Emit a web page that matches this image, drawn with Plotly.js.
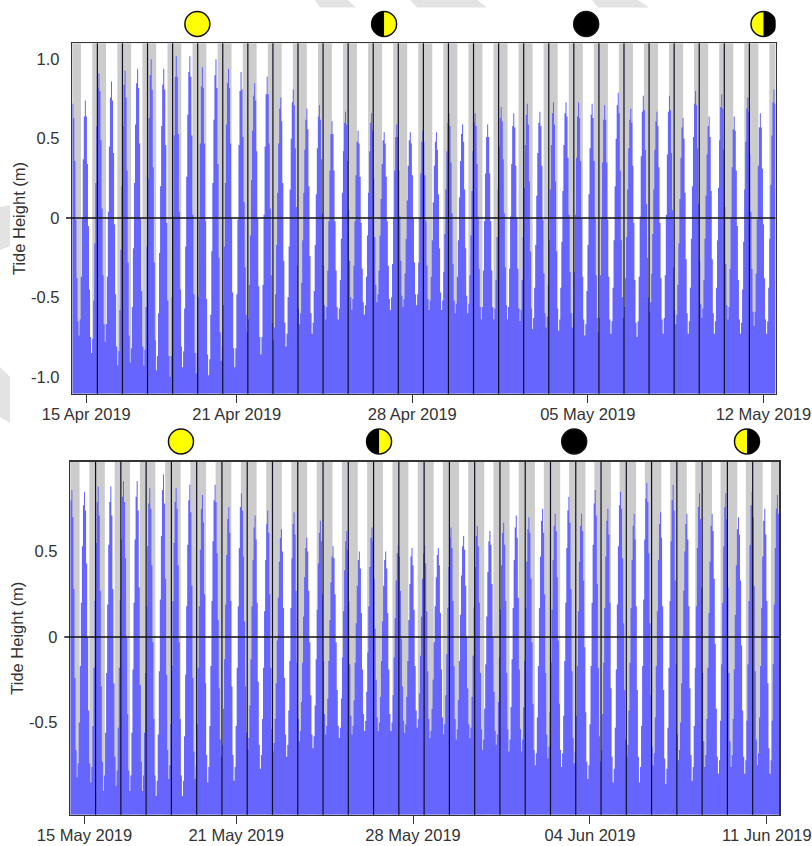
<!DOCTYPE html>
<html><head><meta charset="utf-8">
<script src="https://cdn.plot.ly/plotly-3.0.1.min.js"></script>
<style>html,body{margin:0;padding:0;background:#fff}#c{width:812px;height:846px}</style>
</head><body><div id="c"></div>
<script>
// Hourly tide heights (m), panel 1: 15 Apr - 12 May 2019
var tideAprA=[.72,.63,.36,-.01,-.38,-.65,-.74,-.64,-.37,0,.37,.64,.74,.64,.34,-.05,-.45,-.75,-.85,-.76,-.52,-.16,.22,.58,.82,.91,.80,.49,.06,-.36,-.67,-.78,-.67,-.37,.04,.45,.76,.86,.74,.41,-.04,-.48,-.81,-.93,-.84,-.58,-.20,.20,.58,.84,.93,.76,.30,-.28,-.74,-.91,-.82,-.56,-.19,.22,.59,.85,.94,.82,.47,0,-.46,-.81,-.93,-.83,-.56,-.18,.25,.63,.90,1.0,.81,.32,-.28,-.77,-.96,-.87,-.60,-.22,.20,.58,.84,.94,.81,.46,-.03,-.52,-.87,-1.0,-.87,-.50,.01,.52,.89,1.02,.89,.53,.04,-.45,-.81,-.94,-.84,-.57,-.18,.26,.65,.92,1.02,.89,.52,.02,-.48,-.85,-.98,-.85,-.50,-.01,.47,.83,.95,.82,.47,-.02,-.51,-.86,-.99,-.89,-.61,-.21,.22,.62,.90,1.0,.82,.34,-.25,-.72,-.90,-.81,-.55,-.18,.22,.59,.85,.94,.82,.47,0,-.47,-.82,-.94,-.82,-.48,-.01,.46,.80,.92,.81,.51,.10,-.31,-.61,-.72,-.64,-.42,-.11,.24,.55,.77];
var tideAprB=[.85,.74,.42,0,-.43,-.75,-.86,-.75,-.42,.02,.45,.78,.89,.78,.47,.06,-.36,-.66,-.77,-.69,-.48,-.17,.16,.47,.69,.76,.61,.22,-.27,-.66,-.81,-.73,-.50,-.18,.18,.50,.73,.81,.71,.44,.07,-.30,-.57,-.67,-.60,-.41,-.14,.16,.43,.62,.69,.56,.20,-.24,-.60,-.73,-.66,-.46,-.17,.15,.44,.64,.71,.62,.37,.03,-.30,-.55,-.64,-.56,-.33,-.02,.30,.53,.61,.53,.30,-.02,-.33,-.56,-.64,-.57,-.39,-.13,.16,.42,.60,.67,.59,.36,.05,-.27,-.50,-.58,-.51,-.30,-.02,.27,.48,.55,.47,.26,-.03,-.32,-.53,-.61,-.55,-.37,-.11,.16,.42,.60,.66,.55,.25,-.12,-.42,-.53,-.48,-.33,-.11,.12,.34,.49,.54,.47,.26,-.02,-.30,-.51,-.58,-.50,-.29,0,.30,.51,.59,.51,.30,.01,-.27,-.49,-.56,-.51,-.35,-.13,.11,.33,.49,.54,.47,.27,0,-.28,-.48,-.55,-.48,-.28,0,.28,.48,.55,.48,.27,-.02,-.30,-.51,-.58,-.52,-.37,-.14,.10,.33,.48];
var tideAprC=[.54,.43,.15,-.19,-.47,-.58,-.52,-.34,-.10,.18,.42,.60,.66,.58,.35,.03,-.29,-.52,-.60,-.54,-.37,-.14,.13,.36,.53,.59,.48,.18,-.19,-.49,-.60,-.54,-.36,-.11,.17,.42,.60,.66,.58,.34,.01,-.32,-.56,-.64,-.56,-.33,-.02,.28,.51,.59,.51,.28,-.02,-.33,-.56,-.64,-.57,-.39,-.12,.18,.45,.63,.70,.61,.37,.03,-.31,-.55,-.64,-.56,-.32,.01,.34,.58,.66,.57,.33,0,-.32,-.57,-.65,-.58,-.39,-.12,.19,.46,.65,.72,.59,.23,-.21,-.57,-.70,-.63,-.44,-.17,.14,.41,.60,.67,.58,.33,-.01,-.35,-.60,-.69,-.62,-.42,-.14,.18,.46,.66,.73,.59,.23,-.21,-.57,-.71,-.64,-.44,-.15,.17,.46,.66,.73,.64,.38,.02,-.34,-.60,-.69,-.60,-.34,.02,.38,.64,.73,.63,.36,0,-.37,-.64,-.74,-.67,-.46,-.17,.15,.44,.65,.72,.63,.36,0,-.36,-.63,-.72,-.63,-.36,0,.35,.62,.71,.62,.35,-.01,-.37,-.64,-.73,-.65,-.44,-.14,.20,.50,.71];
var tideAprD=[.79,.66,.30,-.14,-.50,-.63,-.56,-.38,-.12,.18,.44,.62,.69,.60,.33,-.03,-.39,-.66,-.75,-.65,-.37,.01,.39,.67,.77,.68,.43,.09,-.25,-.50,-.59,-.53,-.35,-.10,.18,.43,.61,.67,.58,.32,-.03,-.38,-.64,-.73,-.63,-.36,.02,.40,.67,.77,.68,.41,.05,-.31,-.58,-.67,-.61,-.42,-.16,.12,.38,.57,.63,.50,.16,-.26,-.60,-.73,-.65,-.44,-.13,.20,.51,.72,.80,.71,.44,.09,-.27,-.54,-.63,-.57,-.39,-.13,.14,.40,.58,.64,.51,.17,-.26,-.60,-.73,-.65,-.44,-.14,.19,.49,.70,.78,.69,.43,.07,-.29,-.55,-.64,-.56,-.32,0,.32,.56,.64,.55,.30,-.05,-.39,-.64,-.73,-.66,-.45,-.15,.18,.48,.69,.76,.67,.40,.04,-.32,-.59,-.68,-.59,-.35,-.01,.33,.57,.66,.57,.31,-.04,-.38,-.64,-.73,-.65,-.44,-.13,.21,.52,.73,.81,.72];
// Hourly tide heights (m), panel 2: 15 May - 11 Jun 2019
var tideMayA=[.80,.86,.70,.28,-.24,-.66,-.82,-.74,-.50,-.17,.20,.53,.77,.85,.74,.43,0,-.43,-.74,-.85,-.76,-.52,-.18,.21,.55,.79,.88,.71,.27,-.29,-.73,-.90,-.81,-.56,-.21,.19,.54,.79,.88,.71,.28,-.27,-.70,-.87,-.78,-.53,-.18,.22,.57,.82,.91,.79,.46,0,-.45,-.78,-.90,-.81,-.56,-.19,.20,.57,.82,.91,.74,.29,-.28,-.73,-.90,-.81,-.56,-.21,.18,.53,.78,.87,.75,.42,-.03,-.48,-.81,-.93,-.84,-.57,-.20,.22,.59,.86,.95,.78,.34,-.22,-.66,-.83,-.75,-.51,-.17,.21,.55,.79,.87,.75,.42,-.03,-.48,-.81,-.93,-.84,-.58,-.22,.18,.54,.80,.89,.73,.30,-.24,-.67,-.83,-.75,-.51,-.18,.18,.51,.75,.83,.67,.25,-.27,-.69,-.85,-.76,-.52,-.17,.21,.56,.80,.89,.79,.49,.10,-.30,-.60,-.70,-.63,-.42,-.13,.19,.48,.69,.76,.61,.21,-.29,-.69,-.84,-.76,-.52,-.18,.18,.52,.76,.84,.74,.47,.09,-.29,-.56,-.66,-.59,-.40,-.13,.18,.45,.64];
var tideMayB=[.71,.57,.20,-.26,-.63,-.77,-.69,-.48,-.18,.15,.45,.66,.74,.61,.25,-.18,-.54,-.67,-.62,-.48,-.27,-.02,.23,.44,.58,.63,.50,.17,-.24,-.57,-.70,-.63,-.43,-.14,.17,.46,.66,.73,.60,.27,-.15,-.48,-.61,-.55,-.38,-.15,.12,.35,.52,.58,.50,.27,-.03,-.34,-.57,-.65,-.58,-.40,-.13,.16,.43,.61,.68,.56,.25,-.14,-.45,-.57,-.52,-.36,-.14,.10,.32,.47,.53,.46,.25,-.03,-.31,-.52,-.59,-.53,-.36,-.12,.15,.39,.56,.62,.51,.21,-.16,-.46,-.57,-.52,-.37,-.15,.08,.30,.45,.50,.40,.14,-.19,-.45,-.55,-.49,-.32,-.09,.18,.41,.58,.64,.56,.34,.05,-.25,-.47,-.55,-.50,-.35,-.14,.09,.30,.45,.50,.40,.14,-.19,-.45,-.55,-.50,-.34,-.12,.11,.33,.49,.54,.47,.27,-.01,-.29,-.49,-.56,-.51,-.35,-.14,.10,.31,.47,.52,.42,.16,-.17,-.43,-.53,-.48,-.33,-.11,.12,.34,.49,.54,.43,.15,-.20,-.48,-.59,-.55,-.42,-.25,-.03,.18,.35,.48];
var tideMayC=[.52,.42,.14,-.19,-.47,-.57,-.51,-.34,-.10,.17,.41,.58,.64,.52,.21,-.17,-.48,-.60,-.54,-.37,-.14,.13,.36,.53,.59,.51,.30,0,-.30,-.51,-.59,-.53,-.35,-.11,.17,.41,.59,.65,.53,.20,-.21,-.54,-.66,-.60,-.42,-.16,.12,.38,.56,.62,.54,.31,0,-.32,-.55,-.63,-.57,-.38,-.12,.16,.42,.61,.67,.54,.21,-.21,-.54,-.67,-.60,-.41,-.13,.17,.45,.64,.71,.58,.23,-.19,-.54,-.67,-.60,-.41,-.14,.17,.44,.63,.70,.61,.34,-.03,-.39,-.66,-.75,-.68,-.47,-.17,.17,.47,.68,.75,.61,.25,-.21,-.57,-.71,-.64,-.44,-.15,.16,.45,.65,.72,.62,.35,-.02,-.39,-.66,-.76,-.68,-.46,-.14,.20,.52,.74,.82,.67,.28,-.20,-.59,-.74,-.67,-.46,-.17,.15,.44,.65,.72,.62,.33,-.06,-.44,-.73,-.83,-.75,-.51,-.17,.20,.54,.78,.86,.71,.31,-.18,-.58,-.73,-.66,-.45,-.15,.17,.47,.68,.75,.60,.20,-.30,-.70,-.85,-.77,-.53,-.19,.19,.53,.77];
var tideMayD=[.85,.75,.46,.08,-.31,-.60,-.70,-.63,-.43,-.15,.17,.45,.65,.72,.57,.18,-.31,-.70,-.85,-.76,-.52,-.17,.22,.57,.81,.90,.79,.49,.08,-.34,-.64,-.75,-.68,-.47,-.17,.15,.45,.66,.73,.58,.18,-.31,-.71,-.86,-.77,-.53,-.18,.21,.56,.80,.89,.74,.33,-.16,-.57,-.72,-.66,-.50,-.27,0,.27,.50,.66,.72,.57,.18,-.30,-.69,-.84,-.76,-.52,-.18,.18,.52,.76,.84,.69,.29,-.21,-.61,-.76,-.69,-.48,-.18,.14,.44,.65,.72,.62,.34,-.04,-.42,-.70,-.80,-.72,-.49,-.16,.20,.53,.76,.84,.69,.29,-.21,-.61,-.76,-.69,-.48,-.19,.13,.42,.63,.70,.60,.33,-.05,-.43,-.70,-.80,-.72,-.49,-.16,.21,.54,.77,.85,.70,.30,-.20,-.60,-.75,-.68,-.47,-.17,.17,.47,.68,.75,.60,.21,-.27,-.65,-.80,-.72,-.49,-.16,.19,.52,.75,.83,.72];
// Daylight (hour of day) per day
var sunriseApr=[8.3,8.3,8.3,8.3,8.3,8.3,8.4,8.4,8.4,8.4,8.4,8.4,8.5,8.5,8.5,8.5,8.5,8.5,8.5,8.5,8.6,8.6,8.6,8.6,8.6,8.6,8.6,8.6];
var sunsetApr=[19.1,19.1,19.1,19.1,19.1,19.1,19.1,19.1,19.1,19.1,19.1,19.1,19.1,19.1,19.1,19.1,19.1,19.1,19.1,19.1,19.1,19.1,19.1,19.1,19.1,19.1,19.1,19.1];
var sunriseMay=[8.8,8.8,8.8,8.8,8.8,8.9,8.9,8.9,8.9,8.9,9.0,9.0,9.0,9.0,9.1,9.1,9.1,9.1,9.2,9.2,9.2,9.3,9.3,9.3,9.4,9.4,9.4,9.5];
var sunsetMay=[18.1,18.1,18.1,18.1,18.0,18.0,18.0,18.0,18.0,18.0,17.9,17.9,17.9,17.9,17.8,17.8,17.8,17.8,17.7,17.7,17.7,17.6,17.6,17.6,17.5,17.5,17.5,17.4];
// Axis labels
var tickHoursApr=[13.4,157.4,325.4,493.4,661.4];
var tickTextApr=['15 Apr 2019','21 Apr 2019','28 Apr 2019','05 May 2019','12 May 2019'];
var tickHoursMay=[13.5,157.5,325.5,493.5,661.5];
var tickTextMay=['15 May 2019','21 May 2019','28 May 2019','04 Jun 2019','11 Jun 2019'];
var yValsApr=[1,0.5,0,-0.5,-1], yTextApr=['1.0','0.5','0','-0.5','-1.0'];
var yValsMay=[0.5,0,-0.5], yTextMay=['0.5','0','-0.5'];
// Moon phases
var moonKinds=['full','first','new','last'];
var moonHoursApr=[119.7,298.4,491.8,661.5];
var moonHoursMay=[105.1,293.2,478.5,642.6];

var W=812,H=846;
var FONT='"Liberation Sans",Arial,sans-serif', TXT='#333333';
var panels=[
 {tide:[].concat(tideAprA,tideAprB,tideAprC,tideAprD),rise:sunriseApr,set:sunsetApr,ticks:tickHoursApr,text:tickTextApr,yv:yValsApr,yt:yTextApr,moons:moonHoursApr,
  left:72.3,right:775.5,top:43.3,bottom:393.7,ymin:-1.107,ymax:1.101,moonY:24,zeroStart:66},
 {tide:[].concat(tideMayA,tideMayB,tideMayC,tideMayD),rise:sunriseMay,set:sunsetMay,ticks:tickHoursMay,text:tickTextMay,yv:yValsMay,yt:yTextMay,moons:moonHoursMay,
  left:70.3,right:779,top:461.7,bottom:814.7,ymin:-1.039,ymax:1.025,moonY:441.5,zeroStart:64.3}
];
var xEnd=673;
var traces=[], shapes=[], layout={
 width:W,height:H,margin:{l:0,r:0,t:0,b:0},paper_bgcolor:'#ffffff',plot_bgcolor:'#cccccc',
 showlegend:false,hovermode:false,font:{family:FONT,size:16,color:TXT}
};
function poly(pts,c){
 var d=pts.map(function(p,i){return (i?'L':'M')+(p[0]/W)+','+(1-p[1]/H);}).join(' ')+' Z';
 shapes.push({type:'path',xref:'paper',yref:'paper',path:d,fillcolor:c,line:{width:0},layer:'below'});
}
// faint background marks
var wm='#e3e3e3';
poly([[315,0],[348,0],[356,7.5],[320,7.5]],wm);
poly([[410,0],[477,0],[487,7.5],[417,7.5]],wm);
poly([[592,0],[638,0],[649,7.5],[598,7.5]],wm);
poly([[0,207],[10,205],[10,246],[0,250]],wm);
poly([[0,367],[10,377],[10,423],[0,417]],wm);

// circle built from cubic arcs (shape paths do not accept A commands)
function moonPath(R,part){
 var k=0.5523*R;
 var right='C '+k+' -'+R+' '+R+' -'+k+' '+R+' 0 C '+R+' '+k+' '+k+' '+R+' 0 '+R;
 var left='C -'+k+' '+R+' -'+R+' '+k+' -'+R+' 0 C -'+R+' -'+k+' -'+k+' -'+R+' 0 -'+R;
 if(part==='whole') return 'M 0 -'+R+' '+right+' '+left+' Z';
 if(part==='right') return 'M 0 -'+R+' '+right+' Z';
 return 'M 0 '+R+' '+left+' Z';
}

panels.forEach(function(p,i){
 var xa=i?'x2':'x', ya=i?'y2':'y';
 var xk=i?'xaxis2':'xaxis', yk=i?'yaxis2':'yaxis';
 var dayX=[],dayW=[],dayY=[],dayB=[];
 p.rise.forEach(function(r,d){
  dayX.push(24*d+(r+p.set[d])/2);dayW.push(p.set[d]-r);dayY.push(p.ymax-p.ymin);dayB.push(p.ymin);
 });
 traces.push({type:'bar',x:dayX,y:dayY,base:dayB,width:dayW,marker:{color:'#ffffff',line:{width:0}},xaxis:xa,yaxis:ya,hoverinfo:'skip'});
 var xs=p.tide.map(function(v,h){return h;}); xs.push(xEnd);
 var ys=p.tide.concat([p.tide[p.tide.length-1]]);
 traces.push({type:'scatter',mode:'lines',x:[0,xEnd],y:[p.ymin,p.ymin],line:{width:0},xaxis:xa,yaxis:ya,hoverinfo:'skip'});
 traces.push({type:'scatter',mode:'lines',x:xs,y:ys,line:{width:0,shape:'hv',color:'#6666ff'},fill:'tonexty',fillcolor:'#6666ff',xaxis:xa,yaxis:ya,hoverinfo:'skip'});
 layout[xk]={domain:[p.left/W,p.right/W],range:[0,xEnd],anchor:ya,tickmode:'array',tickvals:p.ticks,ticktext:p.text,ticks:'outside',ticklen:8,tickwidth:1,tickcolor:'#333333',ticklabelstandoff:-3,
  showgrid:false,zeroline:false,showline:true,mirror:true,linecolor:'#333333',linewidth:1.5,tickangle:0,tickfont:{family:FONT,size:16.5,color:TXT},fixedrange:true};
 layout[yk]={domain:[1-p.bottom/H,1-p.top/H],range:[p.ymin,p.ymax],anchor:xa,tickmode:'array',tickvals:p.yv,ticktext:p.yt,ticks:'outside',ticklen:8,tickcolor:'rgba(0,0,0,0)',
  showgrid:false,zeroline:false,showline:true,mirror:true,linecolor:'#333333',linewidth:1.5,tickfont:{family:FONT,size:16.5,color:TXT},fixedrange:true,
  title:{text:'Tide Height (m)',font:{family:FONT,size:16.5,color:TXT},standoff:1}};
 // midnight lines
 for(var d=1;d<=27;d++){
  shapes.push({type:'line',xref:xa,yref:ya+' domain',x0:24*d,x1:24*d,y0:0,y1:1,line:{color:'#111122',width:1.2},layer:'above'});
 }
 // zero line
 var span=p.right-p.left;
 shapes.push({type:'line',xref:xa+' domain',yref:ya,x0:(p.zeroStart-p.left)/span,x1:1,y0:0,y1:0,line:{color:'#111111',width:1.3},layer:'above'});
 // moons
 p.moons.forEach(function(hr,m){
  var kind=moonKinds[m],R=12.5;
  var base={type:'path',xref:xa,yref:'paper',xsizemode:'pixel',ysizemode:'pixel',xanchor:hr,yanchor:1-p.moonY/H};
  shapes.push(Object.assign({},base,{path:moonPath(R,'whole'),fillcolor:kind==='new'?'#000000':'#ffff00',line:{color:'#111111',width:1.5}}));
  if(kind==='first'||kind==='last'){
   shapes.push(Object.assign({},base,{path:moonPath(R,kind==='first'?'left':'right'),fillcolor:'#000000',line:{width:0}}));
  }
 });
});
layout.shapes=shapes;
Plotly.newPlot('c',traces,layout,{displayModeBar:false,staticPlot:true});
</script></body></html>
